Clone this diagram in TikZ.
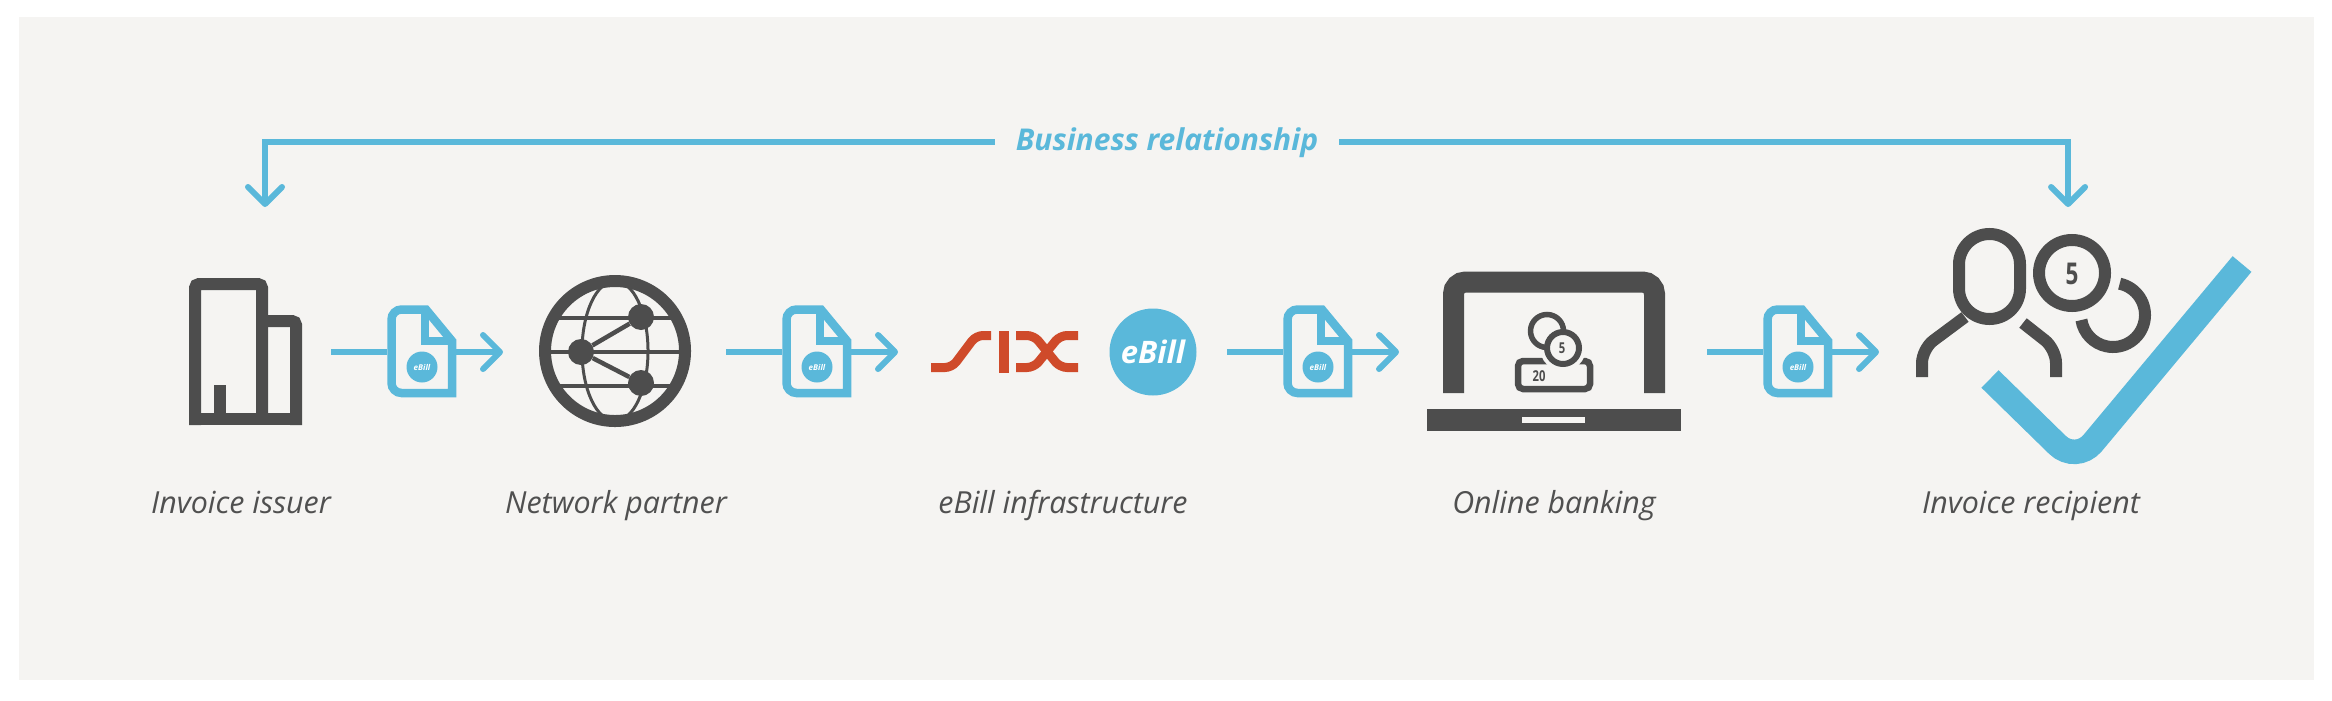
\documentclass[tikz,border=0pt]{standalone}
\usepackage{fontspec}
\setmainfont{Open Sans}
\usepackage{tikz}
\usetikzlibrary{arrows.meta}
\definecolor{panelbg}{HTML}{F5F4F2}
\definecolor{billblue}{HTML}{5AB8DA}
\definecolor{icondark}{HTML}{4D4D4D}
\definecolor{labelgrey}{HTML}{505050}
\definecolor{sixred}{HTML}{CF4A2A}
\begin{document}
\begin{tikzpicture}[x=0.1cm, y=0.1cm, xscale=0.35146, yscale=-0.35146,
		flow/.style={draw=billblue, line width=6, -{Straight Barb[length=17pt,width=34pt,round]}},
		docline/.style={draw=billblue, line width=8.5},
		docbox/.style={inner sep=0, minimum width=69, minimum height=92},
		darkline/.style={draw=icondark, line width=12},
		caption/.style={anchor=base, text=labelgrey, font=\fontsize{30.4}{30}\selectfont\itshape},
		globenode/.style={circle, fill=icondark, inner sep=0, minimum size=26},
		coinnum/.style={text=icondark, inner sep=0, font=\bfseries},
		relation/.style={text=billblue, inner xsep=21, inner ysep=0, text height=22, text depth=5,
			font=\fontsize{30}{30}\selectfont\bfseries\itshape}]
		\useasboundingbox (0,0) rectangle (2332,700);
		\fill[white] (0,0) rectangle (2332,700);
		\fill[panelbg] (19,17) rectangle (2314,680);

		\coordinate (issuerin) at (265,207);
		\coordinate (recipientin) at (2068,207);
		\node[relation] (relbox) at (1167,142) {Business relationship};
		\draw[flow] (relbox) -| (issuerin);
		\draw[flow] (relbox) -| (recipientin);

		% invoice issuer
		\begin{scope}[darkline, rounded corners=4]
		\draw (195,425) -- (195,284) -- (262,284) -- (262,419);
		\draw (262,321) -- (296,321) -- (296,425);
		\end{scope}
		\fill[icondark] (189,413) rectangle (302,425);
		\fill[icondark] (214,385) rectangle (226,413);

		% network partner
		\coordinate (globe) at (615,351);
		\begin{scope}
		\clip (globe) circle (70);
		\foreach \y in {318,352,386}
			\draw[icondark, line width=3.5] (530,\y) -- (700,\y);
		\end{scope}
		\draw[icondark, line width=3] (globe) ellipse [x radius=33, y radius=70];
		\draw[darkline] (globe) circle (70);
		\node[globenode] (hub) at (581,352) {};
		\node[globenode] (peera) at (641,317) {};
		\node[globenode] (peerb) at (641,383) {};
		\draw[icondark, line width=4.5] (peera) -- (hub) -- (peerb);

		% six logo and badge
		\begin{scope}[draw=sixred, line width=9, rounded corners=7]
		\draw (931,367.5) -- (952,367.5) -- (976,335.5) -- (991,335.5);
		\draw (1016,335.5) -- (1034,335.5) -- (1060,367.5) -- (1078,367.5);
		\draw (1078,335.5) -- (1060,335.5) -- (1034,367.5) -- (1016,367.5);
		\end{scope}
		\fill[sixred] (999,331) rectangle (1009,373);
		\node[circle, fill=billblue, inner sep=0, minimum size=87, text=white,
			font=\fontsize{31}{31}\selectfont\bfseries\itshape] (badge) at (1153,352) {eBill};

		% online banking
		\draw[icondark, line width=21, rounded corners=12] (1453.5,393) -- (1453.5,282) -- (1654.5,282) -- (1654.5,393);
		\fill[icondark] (1427,409) rectangle (1681,431);
		\fill[panelbg] (1522,417) rectangle (1585,423);
		\draw[icondark, line width=6.5, rounded corners=5] (1518,361) rectangle (1590,389);
		\fill[panelbg] (1563,348) circle (23);
		\draw[icondark, line width=5.5] (1547,331) circle (16.5);
		\draw[icondark, line width=6, fill=panelbg] (1563,348) circle (16);
		\node[coinnum, font=\fontsize{15}{15}\selectfont\bfseries, xscale=0.75] (coinfive) at (1562,348) {5};
		\node[coinnum, font=\fontsize{15}{15}\selectfont\bfseries, xscale=0.75] (traynum) at (1539,376) {20};

		% invoice recipient
		\draw[darkline] (1959,264.5) arc [start angle=180, end angle=360, radius=30.5]
			-- (2020,288.5) arc [start angle=0, end angle=180, radius=30.5] -- cycle;
		\draw[darkline, rounded corners=14] (1965,317) -- (1922,349) -- (1922,377);
		\draw[darkline, rounded corners=14] (2023,323) -- (2056,349) -- (2056,377);
		\draw[darkline] (2072,273) circle (33);
		\node[coinnum, font=\fontsize{30}{30}\selectfont\bfseries, xscale=0.75] (sumfive) at (2072,274) {5};
		\draw[darkline] (2113,315) ++(-78:32) arc [start angle=-78, end angle=171, radius=32];
		\draw[billblue, line width=24.5, rounded corners=26] (1990,379) -- (2076,463) -- (2242,264);

		% document icons on the flow
		\foreach \dx/\n in {0/a,395/b,896/c,1376/d} {
			\begin{scope}[shift={(\dx,0)}]
			\node[docbox] (doc\n) at (421.5,352) {};
			\coordinate (from\n) at (331,352);
			\coordinate (to\n) at (503,352);
			\draw[billblue, line width=6] (from\n) -- (doc\n.west);
			\draw[flow] (doc\n.east) ++(-8,0) -- (to\n);
			\draw[docline] (426,309.5) [rounded corners=10] -- (391.5,309.5) -- (391.5,393) [sharp corners] -- (452,393) -- (452,341) -- cycle;
			\draw[docline, line width=7.5] (425,309.5) -- (425,341) -- (452,341);
			\node[circle, fill=billblue, inner sep=0, minimum size=31, text=white,
				font=\fontsize{8}{8}\selectfont\bfseries\itshape] (seal\n) at (422,367) {eBill};
			\end{scope}
		}

		\node[caption] (issuer) at (241,513) {Invoice issuer};
		\node[caption] (partner) at (616,513) {Network partner};
		\node[caption] (infra) at (1063,513) {eBill infrastructure};
		\node[caption] (banking) at (1554,513) {Online banking};
		\node[caption] (recipient) at (2031,513) {Invoice recipient};
\end{tikzpicture}
\end{document}
